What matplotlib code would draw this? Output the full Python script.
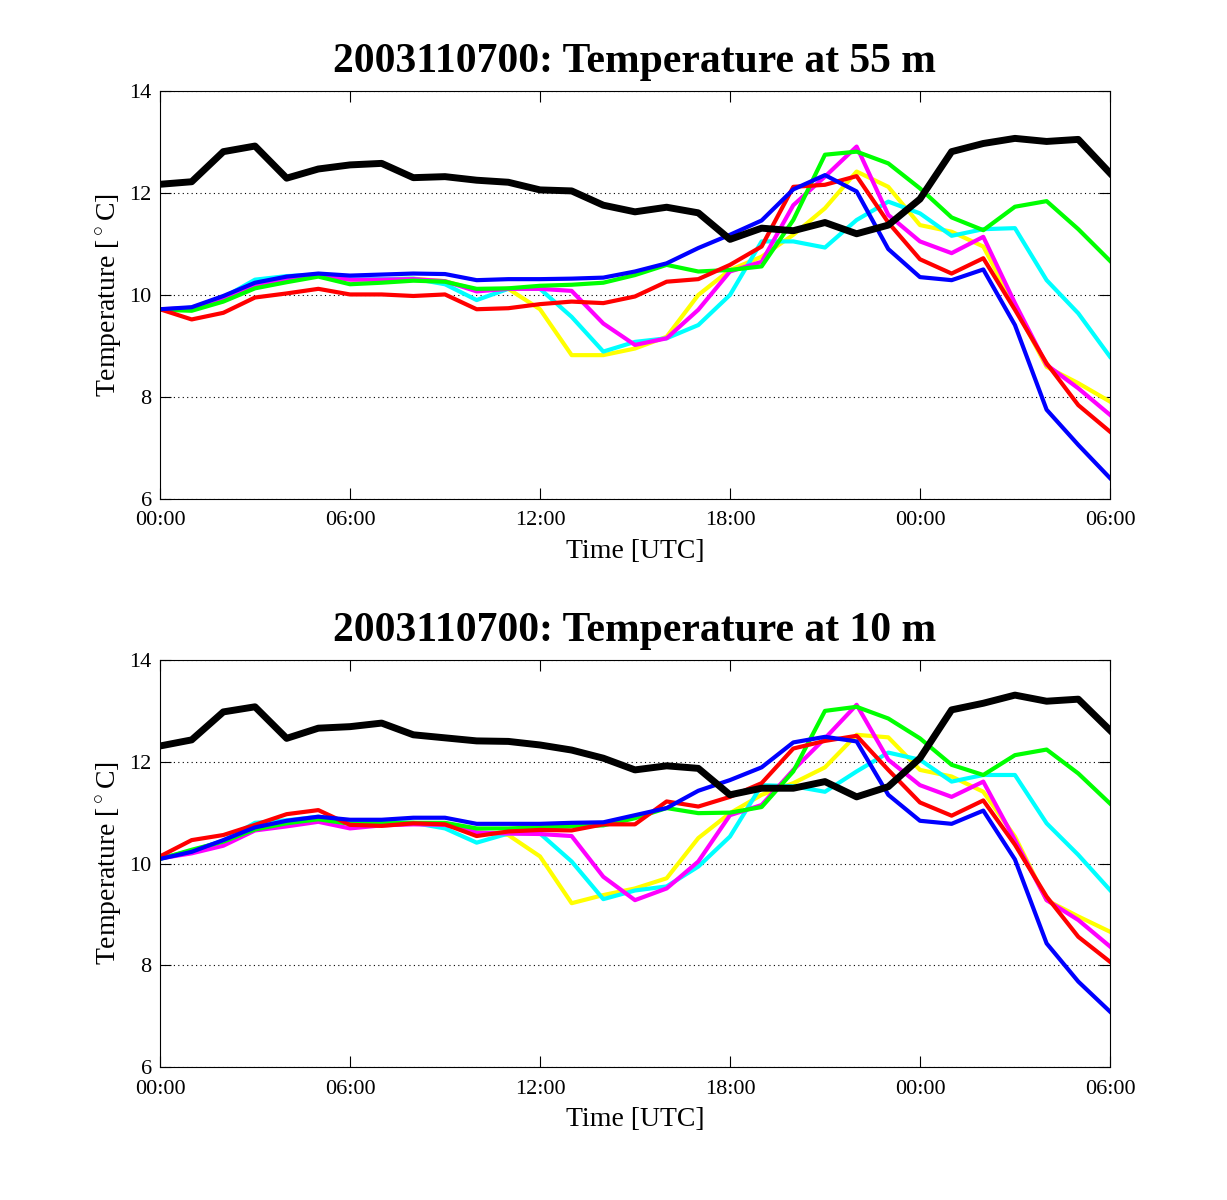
import numpy as np
import matplotlib
matplotlib.use('Agg')
import matplotlib.pyplot as plt

plt.rcParams['font.family'] = ['Liberation Serif', 'DejaVu Serif']
plt.rcParams['mathtext.fontset'] = 'custom'
plt.rcParams['mathtext.rm'] = 'Liberation Serif'

hours = np.arange(31)
tick_hours = [0, 6, 12, 18, 24, 30]
tick_labels = ['00:00', '06:00', '12:00', '18:00', '00:00', '06:00']
run_id = '2003110700'
heights = ['55', '10']

# observations (thick black) and model runs, 55 m
obs_55 = [12.17, 12.22, 12.81, 12.92, 12.29, 12.47, 12.55, 12.58, 12.30, 12.32, 12.25,
          12.21, 12.06, 12.04, 11.76, 11.63, 11.72, 11.61, 11.09, 11.31, 11.26, 11.42,
          11.20, 11.37, 11.88, 12.81, 12.97, 13.07, 13.01, 13.05, 12.39]
yellow_55 = [9.71, 9.74, 9.94, 10.20, 10.32, 10.39, 10.31, 10.31, 10.32, 10.27, 10.10,
             10.12, 9.72, 8.82, 8.82, 8.95, 9.18, 10.00, 10.49, 10.75, 11.18, 11.70,
             12.42, 12.12, 11.37, 11.24, 10.95, 9.77, 8.59, 8.27, 7.91]
cyan_55 = [9.71, 9.75, 9.95, 10.30, 10.37, 10.40, 10.33, 10.31, 10.32, 10.21, 9.90,
           10.12, 10.12, 9.57, 8.89, 9.08, 9.15, 9.41, 10.00, 11.05, 11.05, 10.93,
           11.47, 11.83, 11.60, 11.16, 11.29, 11.31, 10.29, 9.64, 8.79]
magenta_55 = [9.72, 9.74, 9.93, 10.18, 10.30, 10.38, 10.30, 10.30, 10.31, 10.27, 10.07,
              10.12, 10.12, 10.08, 9.44, 9.02, 9.15, 9.71, 10.46, 10.65, 11.76, 12.32,
              12.91, 11.57, 11.05, 10.82, 11.14, 9.84, 8.63, 8.17, 7.65]
green_55 = [9.71, 9.69, 9.87, 10.13, 10.25, 10.36, 10.21, 10.24, 10.28, 10.26, 10.12,
            10.13, 10.18, 10.20, 10.24, 10.39, 10.59, 10.46, 10.49, 10.56, 11.47, 12.75,
            12.81, 12.58, 12.09, 11.52, 11.27, 11.73, 11.84, 11.29, 10.67]
red_55 = [9.72, 9.52, 9.65, 9.95, 10.03, 10.12, 10.01, 10.01, 9.98, 10.01, 9.72,
          9.74, 9.82, 9.87, 9.84, 9.97, 10.26, 10.31, 10.59, 10.95, 12.12, 12.16,
          12.33, 11.42, 10.70, 10.42, 10.72, 9.71, 8.66, 7.84, 7.32]
blue_55 = [9.72, 9.76, 9.98, 10.24, 10.36, 10.42, 10.38, 10.40, 10.42, 10.41, 10.29,
           10.31, 10.31, 10.32, 10.34, 10.46, 10.62, 10.92, 11.18, 11.46, 12.07, 12.35,
           12.03, 10.90, 10.35, 10.29, 10.50, 9.41, 7.75, 7.06, 6.41]

# 10 m
obs_10 = [12.31, 12.43, 12.98, 13.08, 12.46, 12.66, 12.69, 12.76, 12.53, 12.47, 12.41,
          12.40, 12.33, 12.23, 12.07, 11.84, 11.92, 11.87, 11.35, 11.48, 11.48, 11.61,
          11.31, 11.51, 12.07, 13.02, 13.15, 13.31, 13.19, 13.23, 12.62]
yellow_10 = [10.10, 10.24, 10.44, 10.72, 10.82, 10.90, 10.80, 10.80, 10.80, 10.76, 10.62,
             10.56, 10.14, 9.22, 9.38, 9.51, 9.71, 10.50, 10.99, 11.35, 11.58, 11.89,
             12.53, 12.48, 11.84, 11.71, 11.41, 10.53, 9.28, 8.96, 8.66]
cyan_10 = [10.10, 10.25, 10.45, 10.80, 10.85, 10.92, 10.82, 10.82, 10.80, 10.69, 10.41,
           10.59, 10.59, 10.04, 9.30, 9.47, 9.55, 9.94, 10.53, 11.54, 11.52, 11.41,
           11.81, 12.18, 12.04, 11.61, 11.74, 11.74, 10.79, 10.17, 9.48]
magenta_10 = [10.10, 10.20, 10.35, 10.65, 10.73, 10.82, 10.69, 10.75, 10.77, 10.76, 10.61,
              10.59, 10.58, 10.54, 9.74, 9.28, 9.51, 10.04, 10.95, 11.15, 11.84, 12.46,
              13.12, 12.04, 11.54, 11.31, 11.61, 10.46, 9.28, 8.89, 8.37]
green_10 = [10.09, 10.27, 10.43, 10.67, 10.79, 10.87, 10.78, 10.79, 10.80, 10.80, 10.69,
            10.69, 10.71, 10.73, 10.75, 10.89, 11.09, 10.99, 11.00, 11.11, 11.81, 13.00,
            13.08, 12.85, 12.46, 11.94, 11.74, 12.13, 12.24, 11.77, 11.18]
red_10 = [10.14, 10.46, 10.56, 10.76, 10.97, 11.05, 10.76, 10.74, 10.79, 10.77, 10.54,
          10.63, 10.66, 10.65, 10.77, 10.77, 11.22, 11.12, 11.31, 11.58, 12.26, 12.41,
          12.51, 11.84, 11.20, 10.94, 11.24, 10.37, 9.35, 8.56, 8.07]
blue_10 = [10.09, 10.23, 10.46, 10.71, 10.84, 10.92, 10.86, 10.86, 10.90, 10.90, 10.78,
           10.78, 10.78, 10.80, 10.81, 10.95, 11.09, 11.43, 11.64, 11.89, 12.38, 12.49,
           12.40, 11.35, 10.84, 10.78, 11.04, 10.08, 8.43, 7.68, 7.09]

panels = [
    (obs_55, [yellow_55, cyan_55, magenta_55, green_55, red_55, blue_55]),
    (obs_10, [yellow_10, cyan_10, magenta_10, green_10, red_10, blue_10]),
]
colors = ['#ffff00', '#00ffff', '#ff00ff', '#00ff00', '#ff0000', '#0000ff']

fig = plt.figure(figsize=(12.27, 12), dpi=100)
rects = [[0.1304, 0.5842, 0.7742, 0.34], [0.1304, 0.1108, 0.7742, 0.3392]]

for rect, h, (obs, runs) in zip(rects, heights, panels):
    ax = fig.add_axes(rect)
    for c, r in zip(colors, runs):
        ax.plot(hours, r, color=c, lw=3)
    ax.plot(hours, obs, color='k', lw=5)
    ax.set_xlim(0, 30)
    ax.set_ylim(6, 14)
    ax.set_xticks(tick_hours)
    ax.set_xticklabels(tick_labels)
    ax.set_yticks([6, 8, 10, 12, 14])
    ax.tick_params(direction='in', top=True, right=True, labelsize=16, length=8, pad=6)
    ax.tick_params(axis='x', pad=9)
    ax.yaxis.grid(True, linestyle=(0, (1, 3)), color='k', lw=0.8)
    ax.set_title(run_id + ': Temperature at ' + h + ' m', fontsize=30, fontweight='bold', pad=14)
    ax.set_xlabel('Time [UTC]', fontsize=20, labelpad=6)
    ax.set_ylabel(r'Temperature [$^\circ$C]', fontsize=20)

plt.savefig('out.png', dpi=100)
